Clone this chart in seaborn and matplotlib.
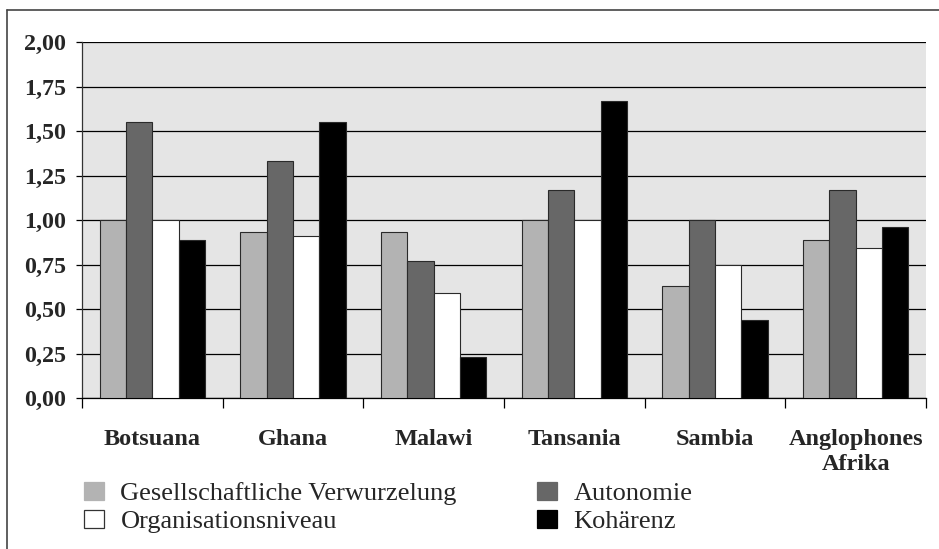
import matplotlib
matplotlib.use("Agg")
import matplotlib.pyplot as plt
from matplotlib.patches import Patch
from matplotlib.lines import Line2D
from matplotlib.ticker import FixedLocator
import seaborn as sns
import pandas as pd

categories = ["Botsuana", "Ghana", "Malawi", "Tansania", "Sambia", "Anglophones\nAfrika"]
series_names = ["Gesellschaftliche Verwurzelung", "Autonomie", "Organisationsniveau", "Kohärenz"]
verwurzelung = [1.00, 0.93, 0.93, 1.00, 0.63, 0.89]
autonomie = [1.55, 1.33, 0.77, 1.17, 1.00, 1.17]
organisation = [1.00, 0.91, 0.59, 1.00, 0.75, 0.84]
kohaerenz = [0.89, 1.55, 0.23, 1.67, 0.44, 0.96]
y_ticks = [0.0, 0.25, 0.5, 0.75, 1.0, 1.25, 1.5, 1.75, 2.0]
colors = ["#b3b3b3", "#676767", "#ffffff", "#000000"]

rows = []
for name, vals in zip(series_names, [verwurzelung, autonomie, organisation, kohaerenz]):
    for c, v in zip(categories, vals):
        rows.append({"Land": c, "Serie": name, "Wert": v})
df = pd.DataFrame(rows)

sns.set_theme(style="white")
plt.rcParams["font.family"] = ["Liberation Serif", "DejaVu Serif"]

fig = plt.figure(figsize=(9.39, 5.49), dpi=100)
ax = fig.add_axes([82/939, 1-398/549, (926-82)/939, (398-42)/549])
ax.set_facecolor("#e5e5e5")

sns.barplot(data=df, x="Land", y="Wert", hue="Serie", order=categories,
            hue_order=series_names, palette=colors, saturation=1, width=0.75,
            edgecolor="#2a2a2a", linewidth=0.8, legend=False, ax=ax, zorder=3)

ax.set_xlim(-0.5, len(categories) - 0.5)
ax.set_ylim(0, 2.0)
ax.set_yticks(y_ticks)
ax.set_yticklabels([f"{t:.2f}".replace(".", ",") for t in y_ticks],
                   fontsize=17.3, fontweight="bold")
ax.yaxis.grid(True, color="black", linewidth=0.9)
ax.set_axisbelow(True)
ax.tick_params(axis="y", direction="out", length=4.5, width=0.9, color="black", pad=7, left=True)

ax.set_xticks(range(len(categories)))
ax.set_xticklabels(categories, fontsize=17.5, fontweight="bold", linespacing=1.3, va="top")
ax.tick_params(axis="x", which="major", length=0, pad=22)
ax.xaxis.set_minor_locator(FixedLocator([i - 0.5 for i in range(len(categories) + 1)]))
ax.tick_params(axis="x", which="minor", direction="out", length=7.2, width=0.9, color="black", bottom=True)

ax.set_xlabel("")
ax.set_ylabel("")
for s in ["top", "right"]:
    ax.spines[s].set_visible(False)
ax.spines["left"].set_color("#333333")
ax.spines["left"].set_linewidth(0.9)
ax.spines["bottom"].set_color("black")
ax.spines["bottom"].set_linewidth(0.9)

handles = [Patch(facecolor=c, edgecolor="#333333" if c == "#ffffff" else c, linewidth=0.9) for c in colors]

leg_kw = dict(frameon=False, fontsize=19, handlelength=0.76, handleheight=0.68,
              handletextpad=0.62, labelspacing=0.18, borderpad=0, borderaxespad=0,
              loc="upper left")
leg1 = fig.legend([handles[0], handles[2]], [series_names[0], series_names[2]],
                  bbox_to_anchor=(84/939, 1-482/549), **leg_kw)
leg2 = fig.legend([handles[1], handles[3]], [series_names[1], series_names[3]],
                  bbox_to_anchor=(537/939, 1-482/549), **leg_kw)

fig.add_artist(Line2D([7/939, 1], [1-10/549, 1-10/549], transform=fig.transFigure,
                      color="#444444", linewidth=1.2))
fig.add_artist(Line2D([7/939, 7/939], [0, 1-10/549], transform=fig.transFigure,
                      color="#444444", linewidth=1.2))

fig.savefig("out.png", dpi=100, facecolor="white")
